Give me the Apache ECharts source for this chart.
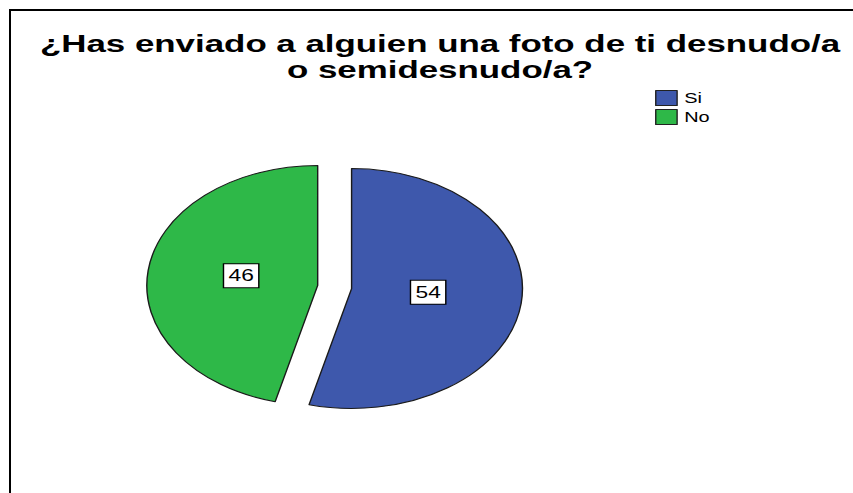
<!DOCTYPE html>
<html>
<head>
<meta charset="utf-8">
<title>Foto desnudo/a</title>
<script src="https://cdn.jsdelivr.net/npm/echarts@6/dist/echarts.min.js"></script>
<style>
  html, body { margin: 0; padding: 0; background: #fff; overflow: hidden; }
  #frame {
    position: absolute; left: 9px; top: 9px; width: 900px; height: 600px;
    border-left: 2px solid #000; border-top: 2px solid #000;
  }
  /* the original picture is stretched sideways, so the chart is drawn narrow and scaled */
  #chart {
    position: absolute; left: 0; top: 0; width: 599px; height: 493px;
    transform: scaleX(1.424); transform-origin: 0 0;
  }
</style>
</head>
<body>
<div id="frame"></div>
<div id="chart"></div>
<script>
const categories = ['Si', 'No'];
const values = [54, 46];
const colors = ['#3e58ac', '#2eb848'];

const FONT = 'Liberation Sans, Arial, sans-serif';
const pieCenter = [235, 287];

const chartDom = document.getElementById('chart');
const myChart = echarts.init(chartDom, null, { renderer: 'svg' });

const option = {
  animation: false,
  color: colors,
  title: {
    text: '¿Has enviado a alguien una foto de ti desnudo/a\no semidesnudo/a?',
    left: 304,
    top: 25,
    textAlign: 'center',
    textStyle: {
      fontFamily: FONT,
      fontSize: 24.5,
      fontWeight: 'bold',
      color: '#000',
      lineHeight: 26
    }
  },
  legend: {
    orient: 'vertical',
    left: 460,
    top: 90,
    padding: 0,
    itemWidth: 15,
    itemHeight: 15,
    itemGap: 3,
    selectedMode: false,
    icon: 'rect',
    itemStyle: { borderColor: '#222', borderWidth: 1 },
    textStyle: { fontFamily: FONT, fontSize: 14, color: '#000' },
    data: categories
  },
  series: [
    {
      type: 'pie',
      center: pieCenter,
      radius: 120,
      startAngle: 90,
      clockwise: true,
      selectedMode: 'multiple',
      selectedOffset: 12,
      avoidLabelOverlap: false,
      itemStyle: { borderColor: '#1a1a1a', borderWidth: 1 },
      label: {
        show: true,
        position: 'inside',
        formatter: '{c}',
        fontFamily: FONT,
        fontSize: 16,
        color: '#000',
        backgroundColor: '#fff',
        borderColor: '#000',
        borderWidth: 1,
        padding: [4, 3, 3, 3]
      },
      // pull the boxes a little toward the middle, as in the original
      labelLayout: function (params) {
        const r = params.labelRect;
        const lx = r.x + r.width / 2;
        const ly = r.y + r.height / 2;
        return {
          dx: -(lx - pieCenter[0]) * 0.14,
          dy: -(ly - pieCenter[1]) * 0.14 - 3
        };
      },
      emphasis: { disabled: true },
      data: categories.map((name, i) => ({ name: name, value: values[i], selected: true }))
    }
  ]
};

option && myChart.setOption(option);
</script>
</body>
</html>
